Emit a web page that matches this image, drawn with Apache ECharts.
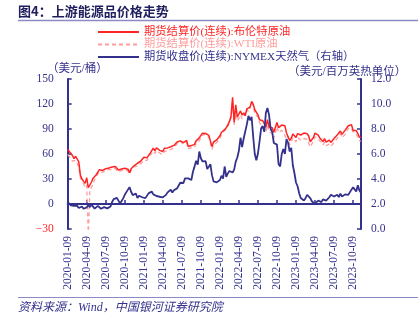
<!DOCTYPE html>
<html><head><meta charset="utf-8">
<script src="https://cdn.jsdelivr.net/npm/echarts@6/dist/echarts.min.js"></script>
<style>html,body{margin:0;padding:0;background:#fff}#c{width:418px;height:326px}</style>
</head><body><div id="c"></div>
<script>
// tick labels on the x axis
var tickLabels = ['2020-01-09','2020-04-09','2020-07-09','2020-10-09','2021-01-09','2021-04-09','2021-07-09','2021-10-09','2022-01-09','2022-04-09','2022-07-09','2022-10-09','2023-01-09','2023-04-09','2023-07-09','2023-10-09'];
// sample dates: 1st, 9th, 16th, 24th of each month (2020-04-20 instead of 04-16)
var categories = (function(){
  var out = [], days = ['01','09','16','24'];
  for (var y = 2020; y <= 2023; y++) {
    for (var m = 1; m <= 12; m++) {
      for (var d = 0; d < 4; d++) {
        var s = y + '-' + (m < 10 ? '0' + m : m) + '-' + days[d];
        if (s < '2020-01-09' || s > '2023-11-16') continue;
        if (s === '2020-04-16') s = '2020-04-20';
        out.push(s);
      }
    }
  }
  return out;
})();
// Brent futures settlement (USD/bbl)
var brent = [
65.4,64.6,60.7,
58.2,54.5,57.3,56.3, 50.5,34.4,30.1,27.2, 24.7,31.5,19.5,21.4, 26.4,31.0,32.5,35.1,
38.3,41.2,41.0,40.3, 42.0,42.4,43.4,43.3, 43.3,44.4,44.8,45.1, 45.6,40.8,42.2,41.9,
40.9,42.9,42.9,41.8, 37.5,42.4,43.8,46.1, 47.4,48.9,51.1,51.3,
51.8,56.0,55.1,55.4, 57.5,61.1,63.4,67.0, 63.7,67.5,68.4,64.4, 64.9,63.0,66.8,66.1,
67.3,68.3,68.7,68.5, 70.3,72.2,74.4,75.6, 75.8,75.6,73.6,74.1, 76.3,69.0,69.5,70.1,
71.6,71.5,75.7,78.1, 79.3,82.4,84.9,85.5, 84.7,84.8,82.4,82.3, 68.9,74.4,75.0,76.9,
77.8,81.8,86.1,86.3, 89.2,91.6,94.8,99.1, 105.0,128.0,98.0,119.0, 104.4,102.8,111.7,106.7,
109.3,105.9,114.2,113.6, 116.3,123.1,119.8,113.1, 111.6,107.0,101.2,103.2, 100.0,96.3,92.3,101.2,
92.4,92.8,91.4,86.2, 88.0,97.9,91.6,93.3, 94.7,92.7,93.9,85.3, 86.9,76.1,79.0,83.9,
85.9,79.7,84.5,86.1, 82.8,84.5,85.1,83.2, 84.3,81.6,74.7,75.0, 79.8,85.1,86.3,82.7,
79.3,77.4,74.9,78.4, 74.3,74.8,76.6,73.9, 74.9,78.5,79.9,82.7, 84.9,87.6,83.5,83.4,
88.6,90.7,93.9,93.3, 95.3,88.2,89.7,88.1, 84.6,80.0,80.0
];
// WTI futures settlement (USD/bbl)
var wti = [
59.6,58.5,54.2,
51.6,50.3,52.1,51.4, 44.8,31.1,28.7,24.0, 20.3,22.8,-37.6,17.0, 19.8,24.7,29.4,33.3,
35.4,38.9,38.4,38.0, 39.8,40.6,40.8,41.3, 40.3,41.2,42.0,42.6, 42.8,38.1,40.2,40.3,
38.7,40.6,40.9,39.9, 35.8,40.3,41.4,44.9, 45.3,45.5,47.8,48.2,
48.5,52.2,52.4,52.3, 53.6,58.4,60.1,63.2, 60.6,64.0,64.8,61.2, 61.5,59.3,63.1,62.1,
63.6,64.9,65.4,66.1, 67.7,70.0,72.2,73.3, 75.2,74.6,71.8,72.1, 74.0,66.5,67.3,67.5,
68.6,68.1,72.6,74.0, 75.9,79.4,82.3,83.8, 84.1,84.2,80.8,78.4, 65.6,70.9,72.4,73.8,
75.2,78.9,83.8,83.3, 88.2,89.7,93.1,92.8, 103.4,123.7,95.0,112.3, 99.3,98.3,107.0,102.1,
104.7,103.1,114.2,110.8, 115.3,122.1,117.6,107.6, 108.4,104.8,97.6,94.7, 93.9,90.5,86.5,94.9,
86.6,86.8,85.1,78.7, 79.5,92.6,85.6,84.6, 88.4,85.8,85.6,78.0, 81.2,71.0,74.3,79.6,
80.3,74.6,79.9,80.1, 76.4,78.5,78.5,76.3, 77.7,75.7,68.4,69.3, 75.7,80.7,82.5,77.9,
75.7,73.7,70.9,74.3, 70.1,70.2,71.8,69.2, 70.6,73.9,75.4,78.7, 81.4,84.4,79.4,79.1,
83.6,87.5,90.8,90.0, 90.8,86.4,86.7,83.7, 80.4,75.7,75.5
];
// NYMEX natural gas close (USD/MMBtu), right axis
var gas = [
2.14,2.08,1.90,
1.84,1.86,1.90,1.85, 1.68,1.78,1.80,1.62, 1.59,1.73,1.92,1.75, 1.95,1.83,1.63,1.72,
1.85,1.72,1.62,1.50, 1.75,1.80,1.65,1.80, 1.80,2.16,2.39,2.47, 2.49,2.33,2.05,2.24,
2.45,2.74,2.95,3.02, 3.35,2.98,2.71,2.82, 2.84,2.48,2.66,2.59,
2.54,2.70,2.47,2.46, 2.85,2.85,3.00,2.77, 2.77,2.64,2.49,2.58, 2.64,2.53,2.66,2.73,
2.93,2.92,3.14,2.92, 3.10,3.13,3.25,3.48, 3.70,3.67,3.68,4.05, 3.91,4.05,3.89,3.92,
4.58,4.99,5.46,5.14, 6.20,5.66,5.41,5.30, 5.43,4.80,4.98,5.19, 4.31,3.81,3.70,3.73,
3.73,3.92,4.26,4.03, 5.00,4.18,4.45,4.64, 4.57,4.52,4.75,5.39, 5.72,6.28,7.30,6.55,
7.24,7.21,8.37,9.05, 8.70,8.97,7.38,6.00, 5.50,6.04,7.00,8.05, 8.23,7.77,9.30,9.68,
9.13,8.00,7.77,6.88, 6.77,6.75,5.20,5.00, 6.00,6.40,6.00,7.20, 6.90,6.20,6.50,5.10,
4.48,3.72,3.42,2.86, 2.48,2.44,2.28,2.46, 2.74,2.60,2.47,2.22, 2.10,2.01,2.11,2.28,
2.30,2.15,2.37,2.33, 2.27,2.24,2.54,2.74, 2.80,2.60,2.53,2.74, 2.56,2.83,2.60,2.56,
2.77,2.61,2.73,2.95, 2.93,3.34,3.17,3.00, 3.50,3.08,2.90
];
var seriesNames = ['期货结算价(连续):布伦特原油','期货结算价(连续):WTI原油','期货收盘价(连续):NYMEX天然气（右轴）'];

var NAVY = '#34318C', RED = '#FF2424', PINK = '#FF9C9C';
var SERIF = '"Liberation Serif","Noto Sans CJK SC",serif';
var tickSet = {}; tickLabels.forEach(function(t){ tickSet[t] = true; });
var isTick = function(i, v){ return !!tickSet[v]; };

var chart = echarts.init(document.getElementById('c'), null, {renderer:'canvas'});
chart.setOption({
  animation: false,
  backgroundColor: '#fff',
  grid: {left: 67.7, right: 57, top: 79, bottom: 97, containLabel: false},
  legend: {
    orient: 'vertical', left: 97, top: 25.75, padding: 0, itemWidth: 41, itemHeight: 12.5, itemGap: 0,
    itemStyle: {opacity: 0},
    data: [
      {name: seriesNames[0], textStyle: {color: RED}},
      {name: seriesNames[1], textStyle: {color: PINK}},
      {name: seriesNames[2], textStyle: {color: NAVY}}
    ],
    textStyle: {fontFamily: SERIF, fontSize: 11.3, lineHeight: 12.5}
  },
  graphic: [
    {type:'text', left: 18, top: 5, style:{text:'图4：上游能源品价格走势', fill:'#1F1E5E', font:'bold 13px "Noto Sans CJK SC"'}},
    {type:'line', shape:{x1:18, y1:20.5, x2:418, y2:20.5}, style:{stroke:'#8C8AC4', lineWidth:1.5}},
    {type:'text', left: 47, top: 63, style:{text:'（美元/桶）', fill:NAVY, font:'11.5px ' + SERIF}},
    {type:'text', left: 288, top: 66, style:{text:'（美元/百万英热单位）', fill:NAVY, font:'11.5px ' + SERIF}},
    {type:'line', shape:{x1:18, y1:297.5, x2:418, y2:297.5}, style:{stroke:'#8C8AC4', lineWidth:1.2}},
    {type:'text', left: 18, top: 302, style:{text:'资料来源：Wind，中国银河证券研究院', fill:NAVY, font:'italic 12px ' + SERIF}}
  ],
  xAxis: {
    type: 'category', data: categories, boundaryGap: false,
    axisLine: {onZero: true, onZeroAxisIndex: 0, lineStyle: {color: NAVY, width: 2}},
    axisTick: {inside: true, length: 4, interval: isTick, lineStyle: {color: NAVY, width: 1.5}},
    axisLabel: {interval: isTick, rotate: 90, margin: 7, color: NAVY, fontFamily: SERIF, fontSize: 11.5},
    splitLine: {show: false}
  },
  yAxis: [
    {type:'value', min:-30, max:150, interval:30, position:'left',
     axisLine:{show:true, lineStyle:{color:NAVY, width:2}},
     axisTick:{show:true, inside:true, length:4, lineStyle:{color:NAVY, width:1.5}},
     axisLabel:{margin:14, fontFamily:SERIF, fontSize:11.5, color:NAVY,
       formatter:function(v){ return v < 0 ? '{r|−' + Math.abs(v) + '}' : '' + v; },
       rich:{r:{color:RED, fontFamily:SERIF, fontSize:11.5}}},
     splitLine:{show:false}},
    {type:'value', min:0, max:12, interval:2, position:'right',
     axisLine:{show:true, lineStyle:{color:NAVY, width:2}},
     axisTick:{show:true, inside:true, length:4, lineStyle:{color:NAVY, width:1.5}},
     axisLabel:{margin:10, fontFamily:SERIF, fontSize:11.5, color:NAVY, formatter:function(v){return v.toFixed(1);}},
     splitLine:{show:false}}
  ],
  series: [
    {name: seriesNames[0], type:'line', yAxisIndex:0, data: brent, showSymbol:false, symbol:'none',
     lineStyle:{color:RED, width:1.5}, itemStyle:{color:RED}, z:3},
    {name: seriesNames[1], type:'line', yAxisIndex:0, data: wti, showSymbol:false, symbol:'none',
     lineStyle:{color:PINK, width:1.3, type:[4,3]}, itemStyle:{color:PINK}, z:2},
    {name: seriesNames[2], type:'line', yAxisIndex:1, data: gas, showSymbol:false, symbol:'none',
     lineStyle:{color:NAVY, width:1.8}, itemStyle:{color:NAVY}, z:4}
  ]
});
</script></body></html>
